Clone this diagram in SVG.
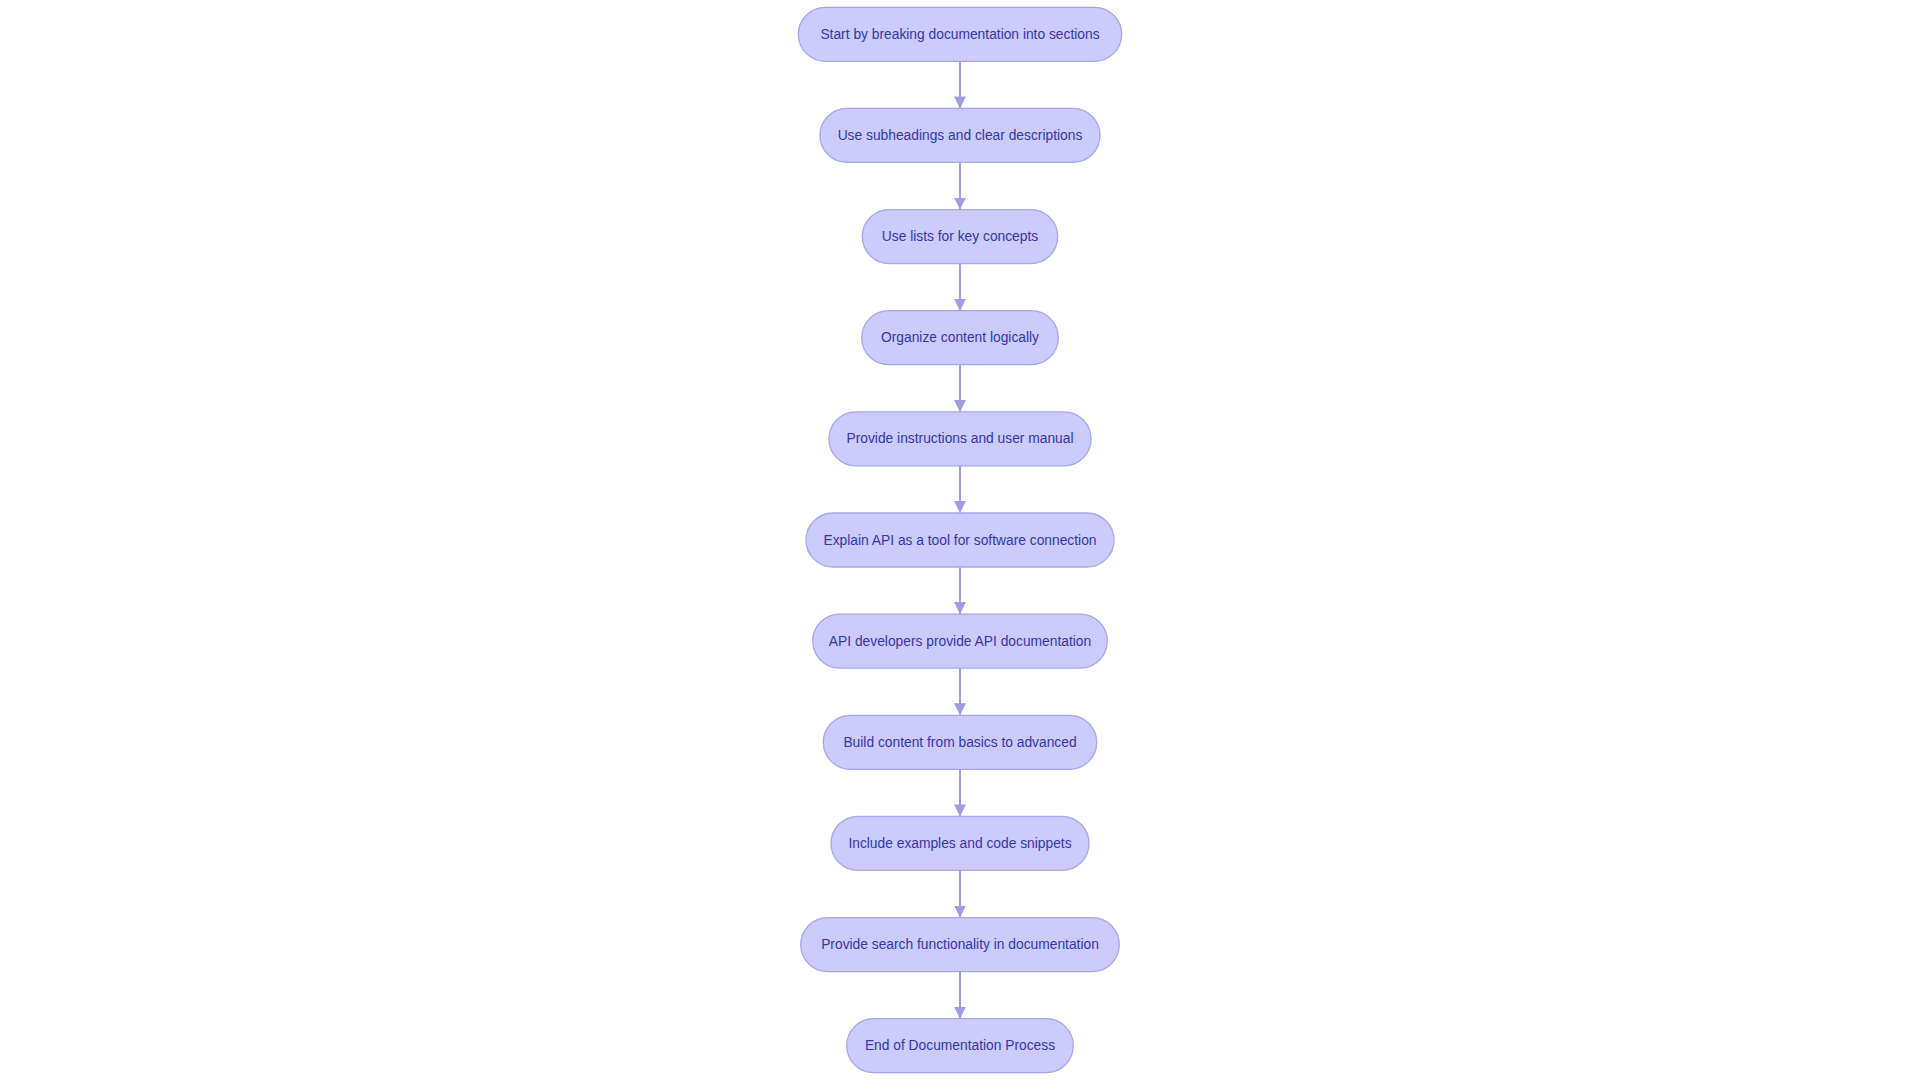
<svg xmlns="http://www.w3.org/2000/svg" width="1920" height="1080" viewBox="0 0 1920 1080">
<style>
.node rect{fill:#cbcbfc;stroke:#a6a6ec;stroke-width:1.3}
.node text{font-family:"Liberation Sans",Arial,sans-serif;font-size:13.8px;fill:#3636a8;text-anchor:middle;dominant-baseline:central}
.edge{stroke:#9d9de4;stroke-width:2;fill:none}
</style>
<defs>
<marker id="arr" markerWidth="12" markerHeight="12" refX="12" refY="6" orient="auto" markerUnits="userSpaceOnUse">
<path d="M0,0 L12,6 L0,12 Z" fill="#9d9de4"/>
</marker>
</defs>
<rect width="1920" height="1080" fill="#ffffff"/>
<g id="connectors">
<line class="edge" x1="960" y1="61.3" x2="960" y2="108.4" marker-end="url(#arr)"/>
<line class="edge" x1="960" y1="162.4" x2="960" y2="209.6" marker-end="url(#arr)"/>
<line class="edge" x1="960" y1="263.6" x2="960" y2="310.7" marker-end="url(#arr)"/>
<line class="edge" x1="960" y1="364.7" x2="960" y2="411.9" marker-end="url(#arr)"/>
<line class="edge" x1="960" y1="465.9" x2="960" y2="513.0" marker-end="url(#arr)"/>
<line class="edge" x1="960" y1="567.0" x2="960" y2="614.1" marker-end="url(#arr)"/>
<line class="edge" x1="960" y1="668.1" x2="960" y2="715.3" marker-end="url(#arr)"/>
<line class="edge" x1="960" y1="769.3" x2="960" y2="816.4" marker-end="url(#arr)"/>
<line class="edge" x1="960" y1="870.4" x2="960" y2="917.6" marker-end="url(#arr)"/>
<line class="edge" x1="960" y1="971.6" x2="960" y2="1018.7" marker-end="url(#arr)"/>
</g>
<g id="n1" class="node"><rect x="798.3" y="7.3" width="323.4" height="54" rx="27"/><text x="960" y="34.3">Start by breaking documentation into sections</text></g>
<g id="n2" class="node"><rect x="820" y="108.4" width="280" height="54" rx="27"/><text x="960" y="135.4">Use subheadings and clear descriptions</text></g>
<g id="n3" class="node"><rect x="862.3" y="209.6" width="195.4" height="54" rx="27"/><text x="960" y="236.6">Use lists for key concepts</text></g>
<g id="n4" class="node"><rect x="861.7" y="310.7" width="196.6" height="54" rx="27"/><text x="960" y="337.7">Organize content logically</text></g>
<g id="n5" class="node"><rect x="829" y="411.9" width="262" height="54" rx="27"/><text x="960" y="438.9">Provide instructions and user manual</text></g>
<g id="n6" class="node"><rect x="806" y="513.0" width="308" height="54" rx="27"/><text x="960" y="540.0">Explain API as a tool for software connection</text></g>
<g id="n7" class="node"><rect x="812.7" y="614.1" width="294.6" height="54" rx="27"/><text x="960" y="641.1">API developers provide API documentation</text></g>
<g id="n8" class="node"><rect x="823.3" y="715.3" width="273.4" height="54" rx="27"/><text x="960" y="742.3">Build content from basics to advanced</text></g>
<g id="n9" class="node"><rect x="831" y="816.4" width="258" height="54" rx="27"/><text x="960" y="843.4">Include examples and code snippets</text></g>
<g id="n10" class="node"><rect x="800.7" y="917.6" width="318.6" height="54" rx="27"/><text x="960" y="944.6">Provide search functionality in documentation</text></g>
<g id="n11" class="node"><rect x="846.7" y="1018.7" width="226.6" height="54" rx="27"/><text x="960" y="1045.7">End of Documentation Process</text></g>
</svg>
